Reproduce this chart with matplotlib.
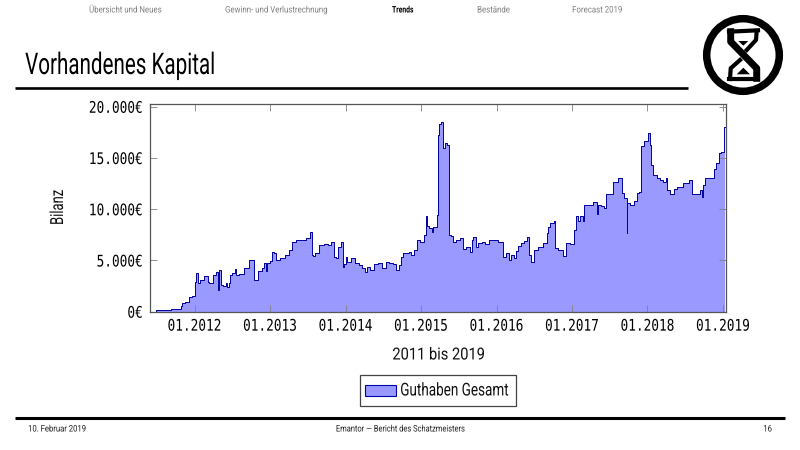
import matplotlib
matplotlib.use('Agg')
import matplotlib.pyplot as plt
from matplotlib.patches import Circle, Polygon, Rectangle
from matplotlib.patheffects import AbstractPathEffect
from matplotlib.transforms import Affine2D

sans = 'Roboto'
mono = 'DejaVu Sans Mono'

# balance over time
years = [2011.49, 2011.49, 2011.57, 2011.80, 2011.83, 2011.85, 2011.91, 2011.93, 2012.00, 2012.01,
         2012.03, 2012.04, 2012.04, 2012.10, 2012.16, 2012.19, 2012.20, 2012.24, 2012.26, 2012.30,
         2012.31, 2012.31, 2012.32, 2012.34, 2012.35, 2012.41, 2012.42, 2012.44, 2012.46, 2012.47,
         2012.52, 2012.54, 2012.56, 2012.63, 2012.69, 2012.76, 2012.78, 2012.80, 2012.82, 2012.87,
         2012.91, 2012.94, 2012.95, 2012.98, 2013.02, 2013.03, 2013.07, 2013.10, 2013.16, 2013.23,
         2013.27, 2013.32, 2013.38, 2013.45, 2013.51, 2013.56, 2013.56, 2013.58, 2013.62, 2013.67,
         2013.76, 2013.78, 2013.84, 2013.85, 2013.89, 2013.91, 2013.96, 2013.96, 2013.99, 2014.02,
         2014.03, 2014.11, 2014.15, 2014.20, 2014.24, 2014.27, 2014.31, 2014.35, 2014.40, 2014.46,
         2014.51, 2014.55, 2014.59, 2014.66, 2014.69, 2014.72, 2014.75, 2014.77, 2014.82, 2014.86,
         2014.88, 2014.93, 2014.96, 2015.02, 2015.06, 2015.07, 2015.09, 2015.13, 2015.16, 2015.17,
         2015.21, 2015.22, 2015.23, 2015.24, 2015.25, 2015.29, 2015.30, 2015.33, 2015.37, 2015.38,
         2015.42, 2015.44, 2015.49, 2015.55, 2015.56, 2015.62, 2015.67, 2015.68, 2015.71, 2015.75,
         2015.77, 2015.84, 2015.86, 2015.93, 2015.99, 2016.04, 2016.08, 2016.09, 2016.16, 2016.17,
         2016.21, 2016.25, 2016.27, 2016.30, 2016.34, 2016.39, 2016.43, 2016.44, 2016.47, 2016.52,
         2016.58, 2016.65, 2016.68, 2016.69, 2016.74, 2016.77, 2016.78, 2016.85, 2016.91, 2016.94,
         2017.02, 2017.04, 2017.06, 2017.09, 2017.12, 2017.16, 2017.17, 2017.24, 2017.32, 2017.34,
         2017.36, 2017.40, 2017.45, 2017.46, 2017.53, 2017.55, 2017.66, 2017.67, 2017.72, 2017.73,
         2017.74, 2017.79, 2017.85, 2017.87, 2017.90, 2017.92, 2017.99, 2018.02, 2018.04, 2018.06,
         2018.09, 2018.15, 2018.19, 2018.23, 2018.26, 2018.27, 2018.33, 2018.36, 2018.43, 2018.52,
         2018.58, 2018.59, 2018.66, 2018.72, 2018.73, 2018.74, 2018.78, 2018.87, 2018.88, 2018.94,
         2018.96, 2019.00, 2019.03]
balance = [0, 130, 160, 230, 550, 880, 950, 1400, 1560, 2930,
           3810, 3810, 2770, 3100, 3490, 2930, 2770, 2770, 3590, 3910,
           2770, 3910, 2120, 4080, 2610, 2510, 2840, 2450, 2770, 3550,
           3810, 4210, 3550, 3680, 4240, 5000, 5000, 3050, 3130, 3950,
           4270, 4760, 3950, 4760, 4920, 5800, 5740, 5090, 5250, 5570,
           6060, 6850, 7010, 7010, 7170, 7730, 5540, 5440, 5700, 6520,
           6620, 6520, 6850, 5310, 5280, 6360, 6780, 4400, 4660, 5380,
           4890, 5220, 4720, 4560, 4240, 3910, 4400, 4070, 4630, 4730,
           4240, 4890, 4730, 4660, 4070, 4560, 5380, 5700, 5700, 5870,
           5540, 6030, 7010, 6780, 7500, 9360, 8380, 8150, 7820, 8220,
           8220, 9420, 17280, 18320, 18320, 18480, 15970, 16460, 16300, 7500,
           7400, 6850, 7010, 7170, 6100, 6360, 5870, 7010, 7270, 6360,
           6750, 6850, 6620, 7010, 7010, 6850, 6850, 5380, 5770, 5050,
           5540, 5220, 5960, 6420, 6680, 6940, 7330, 5540, 4890, 6030,
           6290, 6680, 7660, 8310, 8640, 8900, 6190, 6030, 5440, 6680,
           6620, 8000, 9360, 8830, 9360, 8830, 10430, 10430, 10660, 9550,
           10430, 10270, 10110, 11510, 11510, 12610, 13000, 11600, 11100, 7660,
           10600, 10430, 10760, 11580, 11640, 16130, 16620, 17440, 16300, 14340,
           13350, 13010, 12860, 12700, 13090, 11900, 11510, 11960, 12150, 12540,
           12860, 11510, 11510, 11900, 11200, 12410, 13090, 13000, 13970, 14470,
           15450, 15610, 18060]

x_ticks = [2012, 2013, 2014, 2015, 2016, 2017, 2018, 2019]
x_tick_labels = ['01.2012', '01.2013', '01.2014', '01.2015', '01.2016', '01.2017', '01.2018', '01.2019']
y_ticks = [0, 5000, 10000, 15000, 20000]
y_tick_labels = ['0€', '5.000€', '10.000€', '15.000€', '20.000€']

nav_items = ['Übersicht und Neues', 'Gewinn- und Verlustrechnung', 'Trends', 'Bestände', 'Forecast 2019']
nav_x = [89, 225, 392, 477, 572]


class Squeeze(AbstractPathEffect):
    # no condensed font installed, so narrow the glyphs at draw time
    def __init__(self, factor, anchor='left', vertical=False):
        super().__init__()
        self.factor = factor
        self.anchor = anchor
        self.vertical = vertical

    def draw_path(self, renderer, gc, tpath, affine, rgbFace=None):
        box = tpath.get_extents(affine)
        if self.vertical:
            y0 = (box.y0 + box.y1) / 2
            squeeze = Affine2D().translate(0, -y0).scale(1, self.factor).translate(0, y0)
        else:
            x0 = {'left': box.x0, 'center': (box.x0 + box.x1) / 2, 'right': box.x1}[self.anchor]
            squeeze = Affine2D().translate(-x0, 0).scale(self.factor, 1).translate(x0, 0)
        renderer.draw_path(gc, tpath, affine + squeeze, rgbFace)


W, H = 800, 450
fig = plt.figure(figsize=(W / 100, H / 100), dpi=100)

# slide furniture is laid out in pixels
page = fig.add_axes([0, 0, 1, 1])
page.set_xlim(0, W)
page.set_ylim(H, 0)
page.axis('off')

for item, nx in zip(nav_items, nav_x):
    active = item == 'Trends'
    page.text(nx, 10, item, fontsize=6.5, family=sans, va='center',
              color='black' if active else '#808080', fontweight='bold' if active else 'normal',
              path_effects=[Squeeze(0.75 if active else 0.87)])

page.text(25, 74, 'Vorhandenes Kapital', fontsize=21.5, family=sans, va='baseline', color='black',
          path_effects=[Squeeze(0.69)])
page.plot([15, 688], [87.5, 87.5], color='black', lw=1.9, solid_capstyle='butt')
page.plot([15, 785], [418, 418], color='black', lw=2.2, solid_capstyle='butt')

page.text(28, 429, '10. Februar 2019', fontsize=6.5, family=sans, va='center', color='#222222',
          path_effects=[Squeeze(0.85)])
page.text(400, 429, 'Emantor — Bericht des Schatzmeisters', fontsize=6.5, family=sans,
          va='center', ha='center', color='#222222', path_effects=[Squeeze(0.83, 'center')])
page.text(772, 429, '16', fontsize=6.5, family=sans, va='center', ha='right', color='#222222',
          path_effects=[Squeeze(0.85, 'right')])

# hourglass logo
page.add_patch(Circle((743, 55), 36.3, fill=False, ec='black', lw=5.4))
page.plot([730.7, 730.7, 756.7, 756.7], [31.7, 41.7, 68.3, 78.3], color='black', lw=5, solid_joinstyle='round')
page.plot([756.7, 756, 746.7], [31, 40, 50], color='black', lw=3, solid_joinstyle='round')
page.plot([740, 730.7, 730], [60, 68.3, 79], color='black', lw=3, solid_joinstyle='round')
page.plot([729, 758], [31.7, 30.3], color='black', lw=3)
page.plot([729, 758], [79, 79], color='black', lw=3)
page.add_patch(Polygon([(738.3, 41), (748.3, 41), (743.3, 45.7)], closed=True, fc='black', ec='none'))
page.add_patch(Polygon([(743.3, 67.7), (750, 74.3), (736.7, 74.3)], closed=True, fc='black', ec='none'))

ax = fig.add_axes([150 / W, 1 - 311.7 / H, 576 / W, 208 / H])
ax.patch.set_alpha(0)
ax.fill_between(years, balance, 0, color='#9999ff', lw=0, zorder=1, step='mid')
ax.plot(years, balance, color='#0000a0', lw=0.7, zorder=2, drawstyle='steps-mid')
ax.set_xlim(2011.41, 2019.04)
ax.set_ylim(0, 20300)
ax.set_xticks(x_ticks, x_tick_labels, family=mono, fontsize=11.5)
ax.set_yticks(y_ticks, y_tick_labels, family=mono, fontsize=11.5)
ax.tick_params(axis='both', direction='in', length=5, width=0.6, color='#808080', top=True, right=True, pad=5)
for lab in ax.get_xticklabels():
    lab.set_path_effects([Squeeze(0.8, 'center')])
for lab in ax.get_yticklabels():
    lab.set_path_effects([Squeeze(0.8, 'right')])
for side in ax.spines.values():
    side.set_color('#555555')
    side.set_linewidth(0.9)

page.text(438.5, 355, '2011 bis 2019', fontsize=12, family=sans, va='center', ha='center', color='#111111',
          path_effects=[Squeeze(0.88, 'center')])
page.text(58, 207.5, 'Bilanz', fontsize=13, family=sans, va='center', ha='center', rotation=90, color='#111111',
          path_effects=[Squeeze(0.72, vertical=True)])

# legend box
page.add_patch(Rectangle((360, 375), 156, 31, fc='white', ec='#444444', lw=0.9))
page.add_patch(Rectangle((365, 385), 31, 11, fc='#9999ff', ec='#0000aa', lw=0.8))
page.text(400, 390.5, 'Guthaben Gesamt', fontsize=12.8, family=sans, va='center', color='#111111',
          path_effects=[Squeeze(0.76)])

fig.savefig('out.png', dpi=100)
